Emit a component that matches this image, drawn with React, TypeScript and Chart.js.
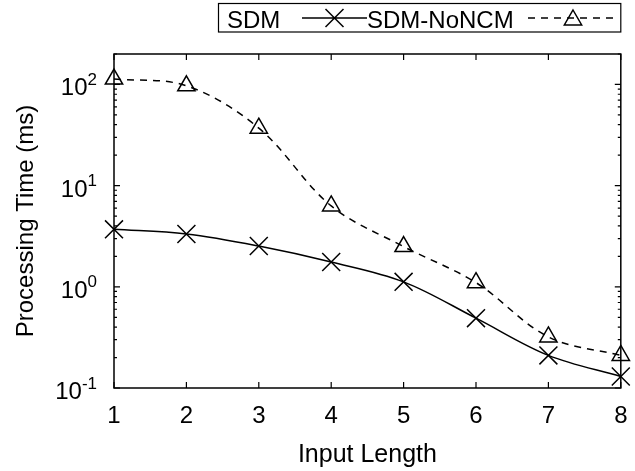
import React, { useEffect, useRef } from 'react';
import { Chart, registerables } from 'chart.js';

Chart.register(...registerables);

// ---- data ----
const inputLengths = [1, 2, 3, 4, 5, 6, 7, 8];
const sdmTimes = [3.7, 3.33, 2.53, 1.76, 1.12, 0.49, 0.21, 0.13];
const sdmNoNcmTimes = [113, 97, 37, 6.3, 2.5, 1.1, 0.32, 0.21];
const seriesLabels = ['SDM', 'SDM-NoNCM'];
const xTickValues = [1, 2, 3, 4, 5, 6, 7, 8];
const yTickExponents = [-1, 0, 1, 2];
const xTitle = 'Input Length';
const yTitle = 'Processing Time (ms)';
const Y_MIN = 0.1;
const Y_MAX = 200;

const FONT = '"Liberation Sans", Arial, Helvetica, sans-serif';

export default function App() {
  const ref = useRef<HTMLCanvasElement>(null);

  useEffect(() => {
    document.body.style.margin = '0';
    const canvas = ref.current!;

    const decor = {
      id: 'gnuplotDecor',
      beforeDatasetsDraw(chart: any) {
        const ctx = chart.ctx as CanvasRenderingContext2D;
        const { left, right, top, bottom } = chart.chartArea;
        const xs = chart.scales.x;
        const ys = chart.scales.y;
        ctx.save();
        ctx.strokeStyle = '#000';
        ctx.lineWidth = 1.5;
        ctx.strokeRect(left, top, right - left, bottom - top);
        ctx.lineWidth = 1.2;
        ctx.beginPath();
        for (const v of xTickValues) {
          const px = xs.getPixelForValue(v);
          ctx.moveTo(px, bottom);
          ctx.lineTo(px, bottom - 6);
          ctx.moveTo(px, top);
          ctx.lineTo(px, top + 6);
        }
        for (let e = -1; e <= 2; e++) {
          for (let k = 1; k <= 9; k++) {
            const val = k * Math.pow(10, e);
            if (val < Y_MIN - 1e-9 || val > Y_MAX + 1e-9) continue;
            const py = ys.getPixelForValue(val);
            const len = k === 1 ? 6 : 3;
            ctx.moveTo(left, py);
            ctx.lineTo(left + len, py);
            ctx.moveTo(right, py);
            ctx.lineTo(right - len, py);
          }
        }
        ctx.stroke();
        ctx.restore();
      },
      afterDraw(chart: any) {
        const ctx = chart.ctx as CanvasRenderingContext2D;
        const { left, right, top, bottom } = chart.chartArea;
        const xs = chart.scales.x;
        const ys = chart.scales.y;
        ctx.save();
        ctx.fillStyle = '#000';
        ctx.strokeStyle = '#000';

        ctx.font = `24px ${FONT}`;
        ctx.textAlign = 'center';
        ctx.textBaseline = 'alphabetic';
        for (const v of xTickValues) {
          ctx.fillText(String(v), xs.getPixelForValue(v), bottom + 35);
        }
        ctx.font = `25px ${FONT}`;
        ctx.fillText(xTitle, (left + right) / 2, bottom + 74);

        const labelRight = left - 17;
        for (const e of yTickExponents) {
          const py = ys.getPixelForValue(Math.pow(10, e));
          const sup = String(e);
          ctx.font = `17px ${FONT}`;
          const supW = ctx.measureText(sup).width;
          ctx.textAlign = 'left';
          ctx.fillText(sup, labelRight - supW, py + 0.5);
          ctx.font = `24px ${FONT}`;
          ctx.textAlign = 'right';
          ctx.fillText('10', labelRight - supW, py + 11);
        }

        ctx.save();
        ctx.translate(33, (top + bottom) / 2);
        ctx.rotate(-Math.PI / 2);
        ctx.font = `24px ${FONT}`;
        ctx.textAlign = 'center';
        ctx.textBaseline = 'alphabetic';
        ctx.fillText(yTitle, 0, 0);
        ctx.restore();

        const ds = chart.data.datasets;
        ctx.lineWidth = 1.2;
        ctx.strokeRect(218.5, 3.5, right - 218.5, 28.5);
        ctx.font = `24px ${FONT}`;
        ctx.textAlign = 'left';
        ctx.textBaseline = 'alphabetic';
        const ly = 18;
        ctx.fillText(ds[0].label, 227, 28);
        ctx.lineWidth = 1.5;
        ctx.setLineDash([]);
        ctx.beginPath();
        ctx.moveTo(302, ly);
        ctx.lineTo(367, ly);
        const cx = 334.5;
        const c = 9;
        ctx.moveTo(cx - c, ly - c);
        ctx.lineTo(cx + c, ly + c);
        ctx.moveTo(cx - c, ly + c);
        ctx.lineTo(cx + c, ly - c);
        ctx.stroke();
        ctx.fillText(ds[1].label, 367, 28);
        ctx.beginPath();
        ctx.setLineDash([7, 6]);
        ctx.moveTo(528, ly);
        ctx.lineTo(618, ly);
        ctx.stroke();
        ctx.setLineDash([]);
        const tx = 573;
        const r = 10;
        const ty = ly + 2;
        ctx.beginPath();
        ctx.moveTo(tx, ty - r);
        ctx.lineTo(tx + r * 0.866, ty + r / 2);
        ctx.lineTo(tx - r * 0.866, ty + r / 2);
        ctx.closePath();
        ctx.stroke();

        ctx.restore();
      },
    };

    const chart = new Chart(canvas, {
      type: 'line',
      data: {
        datasets: [
          {
            label: seriesLabels[0],
            data: inputLengths.map((x, i) => ({ x, y: sdmTimes[i] })),
            borderColor: '#000',
            borderWidth: 1.5,
            pointStyle: 'crossRot',
            pointRadius: 12.7,
            pointBorderWidth: 1.5,
            pointBorderColor: '#000',
            pointBackgroundColor: 'rgba(0,0,0,0)',
            tension: 0.35,
            fill: false,
            clip: false as any,
          },
          {
            label: seriesLabels[1],
            data: inputLengths.map((x, i) => ({ x, y: sdmNoNcmTimes[i] })),
            borderColor: '#000',
            borderWidth: 1.5,
            borderDash: [7, 6],
            pointStyle: 'triangle',
            pointRadius: 10,
            pointBorderWidth: 1.5,
            pointBorderColor: '#000',
            pointBackgroundColor: 'rgba(0,0,0,0)',
            tension: 0.35,
            fill: false,
            clip: false as any,
          },
        ],
      },
      options: {
        animation: false,
        responsive: false,
        devicePixelRatio: 1,
        events: [],
        layout: { padding: { left: 114, top: 54, right: 8, bottom: 83 } },
        plugins: { legend: { display: false }, tooltip: { enabled: false }, title: { display: false } },
        scales: {
          x: { type: 'linear', min: 1, max: 8, display: false },
          y: { type: 'logarithmic', min: Y_MIN, max: Y_MAX, display: false },
        },
      },
      plugins: [decor],
    });
    return () => chart.destroy();
  }, []);

  return (
    <div style={{ width: 635, height: 471 }}>
      <canvas ref={ref} width={635} height={471} style={{ display: 'block' }} />
    </div>
  );
}
